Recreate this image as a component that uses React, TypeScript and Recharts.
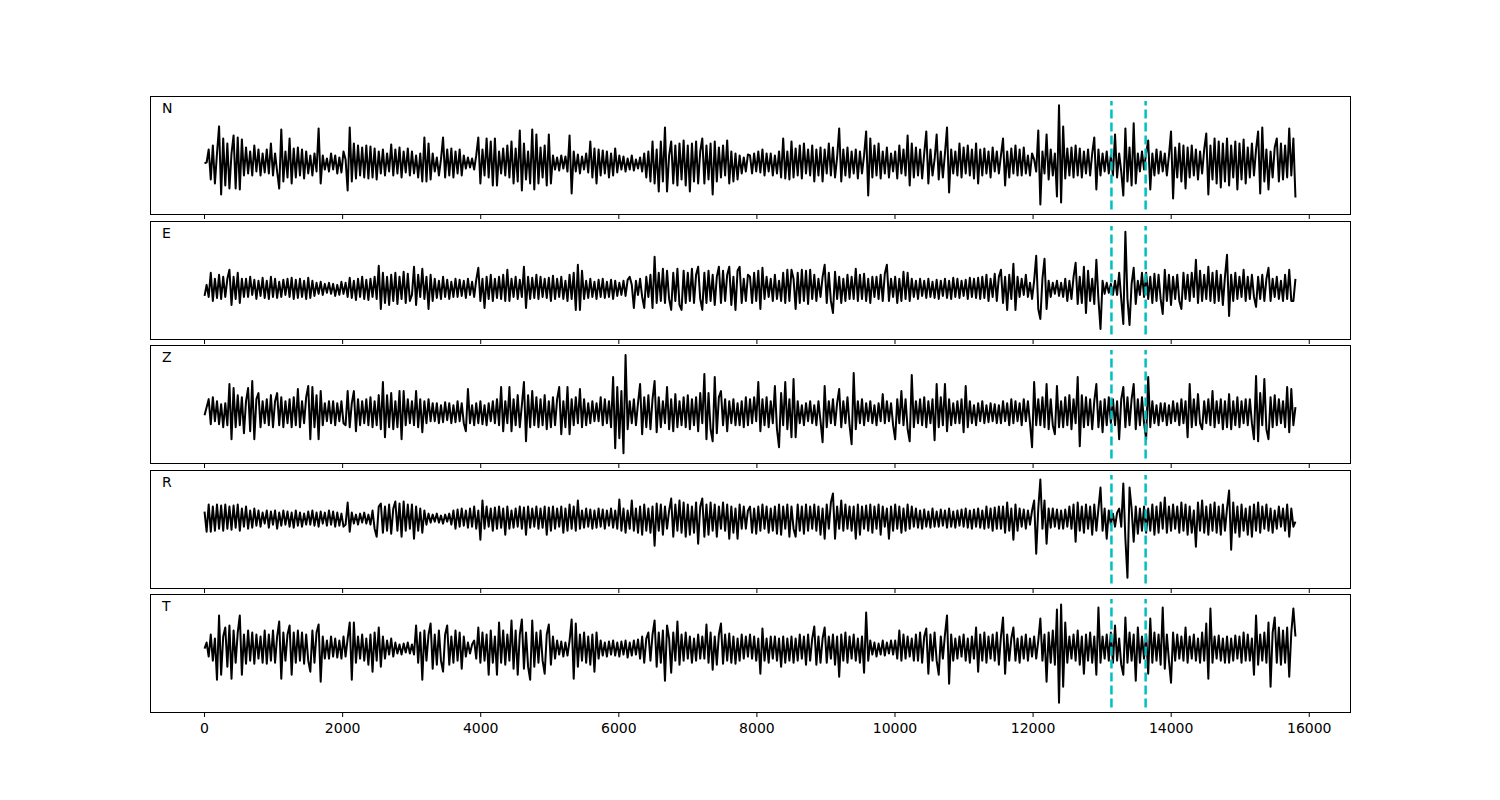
import React from 'react';
import { LineChart, Line, XAxis, YAxis, ReferenceLine } from 'recharts';

const END_TIME = 15800;
const X_TICKS = [0, 2000, 4000, 6000, 8000, 10000, 12000, 14000, 16000];
const X_DOMAIN = [-790, 16590];
const PICKS = [13135, 13630];

const N_VALUES = [
  0, 1, 14, -16, 18, -20, 10, 37, -31, 25,
  -22, 20, -25, 10, 28, -25, 26, -26, 24, -12,
  16, -10, 12, -12, 18, -8, 14, -12, 10, -9,
  14, -10, 20, -12, 10, -8, -25, 34, -18, 12,
  -14, 25, -20, 15, -14, 16, -12, 14, -15, 12,
  -10, 8, -12, 10, -8, 35, -20, 8, -6, 5,
  -8, 10, -6, 8, -10, 6, -9, 12, 4, -27,
  36, -18, 20, -15, 18, -12, 16, -14, 18, -15,
  17, -14, 15, -16, 12, -10, 14, -12, 10, -8,
  19, -12, 14, -10, 16, -14, 12, -9, 15, -12,
  12, -10, 8, -14, 10, -18, 26, -18, 20, -16,
  10, -8, 6, -12, 4, 26, -14, 14, -12, 15,
  -14, 12, -10, 14, -12, 8, -5, 6, -4, 5,
  -6, 8, 26, -20, 14, -12, 25, -14, 22, -22,
  25, -22, 12, -10, 15, -12, 18, -14, 22, -20,
  15, -18, 33, -27, 20, -16, 12, -20, 34, -26,
  29, -20, 16, -14, 18, -22, 29, -20, 8, -6,
  6, -7, 8, -5, 7, -8, 28, -30, 12, -8,
  9, -10, 7, -6, 10, -9, 22, -14, 15, -20,
  14, -12, 13, -10, 12, -14, 10, -12, 15, -9,
  8, -6, 7, -8, 5, -6, 8, -7, 4, -5,
  6, -8, 10, -14, 12, -18, 22, -20, 14, -28,
  22, -18, 36, -28, 8, 22, -20, 18, -22, 20,
  -16, 23, -22, 18, -28, 20, -18, 22, -20, 12,
  25, -20, 18, -16, 20, -31, 22, -18, 16, -14,
  18, -12, 23, -20, 12, -18, 10, -16, 8, -10,
  6, -8, 9,
  8, -10, 10, -8, 12, -9, 14, -12, 10, -8,
  10, -12, 8, -10, 12, -14, 25, -15, 12, -16,
  22, -14, 15, -12, 18, -15, 20, -10, 14, -12,
  18, -18, 14, -12, 16, -18, 14, -10, 20, -12,
  16, -14, 6, 35, -18, 14, -12, 16, -14, 12,
  -10, 14, -15, 12, -10, 8, 32, -32, 25, -14,
  18, -12, 20, -15, 12, -10, 16, -14, 10, -8,
  12, -15, 18, -10, 14, -12, 28, -22, 20, -14,
  16, -12, 14, -15, 10, 32, -20, 14, -12, 4,
  29, -16, 12, -14, 10, 36, -29, 14, -10, 12,
  -12, 20, -14, 16, -10, 18, -12, 14, -15, 20,
  -20, 14, -12, 15, -10, 12, -14, 16, -8, 12,
  -10, 8, 25, -22, 12, -14, 15, -10, 18, -12,
  14, -12, 16, -10, 8, -12, 10, 4, -8, 33,
  -41, 12, -10, 29, -16, 14, -12, 10, -33, 58,
  -39, 37, -15, 15, -12, 16, -14, 18, -12, 15,
  -14, 12, -10, 14, -12, 10, 26, -26, 14, -12,
  10, -8, 12, -10, 8, -12, 29, -14, 10, -8,
  -32, 35, -18, 16, -22, 40, -20, 10, -8, 12,
  -6, 10, 23, -26, 10, -12, 14, -10, 12, -8,
  10, -12, 8, 32, -35, 16, -14, 20, -18, 18,
  -25, 16, -14, 18, -12, 14, -16, 12, -10, 14,
  30, -31, 18, -16, 25, -20, 22, -24, 20, -18,
  25, -22, 18, -14, 22, -26, 20, -16, 24, -20,
  16, -14, 20, -12, 14, 32, -30, 36, -18, 14,
  -26, 12, -14, 16, 25, -18, 20, -16, 18, -14,
  35, -12, 25, -34,
];

const E_VALUES = [
  -7, 4, -8, 16, -12, 10, -9, 14, -10, 12,
  -8, 10, 19, -16, 12, -10, 16, -14, 10, -8,
  10, -8, 12, -6, 9, -10, 8, -7, 11, -9,
  8, -10, 12, -8, 10, -9, 7, -8, 9, -6,
  10, -8, 11, -10, 9, -9, 10, -8, 8, -10,
  11, -9, 8, -7, 6, -5, 7, -6, 5, -4,
  6, -5, 5, -7, 4, -6, 7, -5, 6, -8,
  11, -9, 8, -11, 10, -8, 12, -10, 9, -11,
  10, -8, 12, -10, 23, -20, 16, -14, 12, -16,
  14, -12, 16, -15, 12, -10, 17, -14, 15, -12,
  -6, 22, -16, 14, -8, 20, -10, 12, -20, 14,
  -12, 10, -9, 8, -10, 12, -8, 9, -10, 7,
  -8, 10, -8, 9, -7, 8, -9, 10, -6, 7,
  -8, 9, 21, -12, 10, -19, 12, -10, 14, -12,
  10, -9, 12, -10, 14, -12, 19, -12, 10, -8,
  12, -10, 9, -8, 22, -19, 12, -10, 11, -9,
  14, -10, 12, -8, 10, -9, 11, -12, 13, -10,
  10, -8, 12, -10, 8, -12, 14, -10, 16, -21,
  24, -21, 18, -10, 8, -9, 10, -8, 7, -10,
  9, -8, 10, -9, 7, -8, 9, -10, 8, -7,
  6, -6, 8, -7, 9, 12, 4, -19, 8, -6,
  10, -8, -19, 12, -8, 14, -19, 32, -14, 16,
  -12, 20, -14, 18, -10, -21, 16, -12, 20, -16,
  -21, 18, -14, 16, -12, 20, -14, 14, 22, -10,
  -21, 16, -14, 18, -12, 14, -16, 12, 22, -14,
  18, -12, 14, 22, -16, 12, -21, 18, 22, -14,
  10, -12, 14,
  12, -14, 16, -12, 18, -20, 21, -10, 12, -8,
  10, -12, 14, -10, 8, -12, 16, -14, 19, -12,
  19, 10, -20, 16, -14, 19, -12, 18, -15, 19,
  -10, 14, -12, 10, -8, 12, 24, -14, 16, -12,
  -24, 17, -10, 12, -14, 10, -12, 14, -10, 12,
  -10, 20, -12, 14, -10, 15, -12, 10, -14, 12,
  -8, 12, -10, 14, -12, 15, 24, -12, 10, -8,
  12, -14, 10, -12, 17, -10, 16, -12, 10, -8,
  8, -10, 10, -7, 8, -9, 10, -8, 7, -9,
  9, -10, 8, -7, 10, -9, 8, -10, 11, -8,
  10, -9, 8, -7, 9, -10, 11, -8, 10, -9,
  11, -10, 12, -9, 14, -12, 10, -8, 15, -12,
  12, 19, -14, 12, -21, 14, -10, 25, -21, 12,
  -8, 10, -6, 14, -8, 6, -10, 8, 33, -20,
  -30, 10, 30, -20, 8, -8, 6, -5, 8, -7,
  6, -8, 10, -12, 8, -10, 12, 26, -15, 12,
  -14, 22, -24, 18, -12, 10, -15, 29, -10, -40,
  8, -5, 6, -4, 5, -6, 8, -6, 16, -10,
  -35, 57, -10, -36, 5, 21, -15, 8, -6, 16,
  -8, 16, -10, 12, -14, 15, -12, 14, -10, -25,
  19, -12, 14, -16, 12, -10, 14, -12, -20, 16,
  -10, 14, -12, 16, -8, 29, -14, 18, -12, 14,
  -10, 22, -12, 16, -14, 18, -12, 14, -16, 12,
  34, -27, 14, -12, 16, -10, 12, -8, 19, -12,
  12, -10, 14, -8, -18, 12, -10, 14, -12, 10,
  21, -12, 10, -8, 12, -10, 8, -12, 14, -10,
  19, -12, -12, 10,
];

const Z_VALUES = [
  -2, 6, 14, -11, 16, -8, 12, -11, 9, -14,
  10, -12, 29, -26, 25, -14, 18, -12, 16, -20,
  12, 25, -18, 32, -26, 14, 20, -14, 12, -10,
  14, -12, 18, -14, 12, 20, -12, 16, -14, 12,
  -10, 14, -14, 16, -12, 24, -14, 12, -10, 16,
  27, -26, 26, -14, 18, -26, 22, -12, 10, -8,
  12, -10, 12, -12, 10, -8, 12, -10, -12, 22,
  -14, 10, 22, -18, 14, -12, 12, -10, 14, -12,
  16, -14, 12, -12, 18, -16, 31, -24, 18, -14,
  20, -16, 12, -14, 22, -26, 22, -12, 14, -10,
  12, -12, 22, -14, 14, -19, 12, -10, 14, -8,
  10, -8, 10, -10, 8, -9, 11, -7, 10, -10,
  8, -9, 12, -8, 10, -10, -18, 24, -10, 8,
  -12, 10, -10, 12, -11, 8, -12, 10, -8, 12,
  -10, 14, -12, 26, -18, 12, -10, 26, -18, 14,
  -12, 18, -14, 8, 31, -28, 18, -14, 22, -12,
  16, -14, 14, -12, 18, -16, 12, -14, 16, -12,
  14, 26, -21, 12, -14, 26, -21, 14, -12, 16,
  -10, 24, -14, 14, -12, 10, -10, 12, -8, 10,
  -8, 16, -12, 14, -10, 12, -14, 36, -35, 26,
  -25, 22, -40, 58, -16, 12, -10, 14, -12, 10,
  29, -21, 16, -14, 18, -16, 14, 32, -19, 16,
  -14, 12, -10, 26, -16, 14, -18, 19, -14, 12,
  -12, 16, -14, 18, -16, 14, -12, 16, -18, 20,
  -10, 39, -26, 20, -16, -28, 36, -20, 16, 22,
  -12, 14, -18, 12, -10, 14, -12, 10, -12, 12,
  -14, 16, -12,
  14, -10, 16, -8, 31, -18, 14, -12, 16, -14,
  12, -10, 27, -16, -34, 20, -12, 31, -16, 14,
  -24, 34, -24, 12, -10, 8, -12, 10, -8, 12,
  -10, 8, -12, 12, -8, -29, 27, -14, 12, -10,
  14, -12, 10, 24, -14, 12, -10, 16, -12, -31,
  40, -16, 12, -10, 14, -12, 10, -8, 12, -10,
  8, -12, 10, -8, 19, -10, 12, -8, 10, -12,
  -26, 14, -10, 22, -12, 14, -16, -28, 38, -14,
  12, -10, 14, -12, 16, -14, 12, -10, 14, -27,
  29, -14, 16, -12, 29, -18, 14, -12, 10, -10,
  12, -10, 14, -19, 27, -14, 12, -10, 8, -12,
  10, -8, 12, -10, 8, -9, 10, -8, 9, -10,
  8, -10, 12, -8, 10, -12, 14, -10, 12, -8,
  10, -12, 14, -8, 12, -10, -34, 31, -12, 14,
  -12, 16, -14, 29, -16, 14, -12, -21, 27, -14,
  12, -14, 16, -12, 18, -16, 14, -10, 36, -33,
  18, -14, 16, -12, 14, -16, 12, 29, -14, 12,
  -19, 14, -12, 16, -10, 14, -12, 12, -26, 14,
  26, -14, 16, -12, 14, 29, -16, 14, -12, 16,
  -10, -26, 36, -14, 12, -10, 8, -12, 10, -8,
  10, -12, 8, -10, 12, -8, 10, -12, 14, -10,
  12, -24, 29, -14, 14, -12, 19, -10, -16, 12,
  -10, 14, -12, 22, -14, 12, -10, 14, -16, 12,
  -14, 19, -16, 12, -12, 16, -14, 12, -10, 14,
  -12, 14, -10, -26, 37, -28, 20, -12, 34, -16,
  -26, 16, -14, 18, -12, 14, -10, 12, -14, 26,
  -19, 24, -12, 6,
];

const R_VALUES = [
  7, -13, 14, -13, 12, -12, 14, -10, 13, -12,
  14, -10, 12, -11, 13, -9, 14, -12, 10, -8,
  12, -10, 8, -9, 10, -7, 8, -8, 6, -5,
  8, -9, 7, -6, 8, -10, 6, -7, 8, -6,
  7, -8, 6, -9, 8, -7, 6, -8, 5, -6,
  7, -6, 8, -7, 6, -8, 7, -5, 6, -7,
  8, -6, 7, -8, 6, -7, 5, -8, -6, 16,
  -13, 6, -5, 4, -6, 5, -4, 6, -5, 4,
  -6, 8, -10, -18, 12, 15, -14, 12, -12, 14,
  -15, 10, 17, -12, 15, -18, 17, -12, 14, -10,
  14, -20, 12, -12, 10, -14, 8, -6, 5, -4,
  4, -3, 5, -4, 3, -5, 4, -3, 5, -6,
  8, -10, 9, -8, 10, -7, 8, -9, 10, -8,
  12, -10, 8, -21, 18, -10, 12, -8, 10, -12,
  11, -10, 12, -9, 10, -16, 12, -10, 8, -9,
  10, -8, 12, -10, 11, -16, 12, -9, 10, -8,
  12, -10, 10, -9, 12, -16, 11, -12, 12, -10,
  10, -8, 12, -14, 10, -12, 14, -10, 12, -12,
  18, -10, 8, -9, 10, -8, 9, -10, 8, -9,
  10, -8, 9, -10, 8, -7, 10, -9, 8, -10,
  19, -12, 10, -14, 8, -10, 18, -12, 10, -14,
  12, -16, 14, -12, 10, -14, 12, -27, 15, -12,
  14, -16, 12, -10, 8, 20, -18, 14, -12, 18,
  -14, 16, -18, 14, -16, 12, -14, 16, -25, 12,
  20, -18, 14, -16, 16, -12, 14, -18, 12, -10,
  16, -12, 14, -20, 12, -14, 10, -20, 14, -10,
  12, -10, 8,
  12, -14, 10, -15, 12, -12, 14, -10, 12, -14,
  10, -12, 12, -15, 14, -16, 12, -10, 14, -18,
  12, -10, -18, 14, -12, 12, -15, 14, -12, 12,
  -10, 14, -12, 12, -16, 10, -20, 14, -10, 16,
  25, -20, 12, -10, 18, -12, 14, -10, 12, -12,
  12, -20, 14, -16, 12, -10, 13, -12, 14, -14,
  12, -10, 14, -16, 12, -8, 10, -20, 12, -12,
  14, -10, 12, -14, 10, -12, 14, -10, 12, -8,
  10, -9, 8, -10, 9, -8, 7, -9, 10, -8,
  7, -8, 9, -7, 8, -9, 10, -8, 7, -9,
  8, -7, 9, -8, 10, -9, 8, -10, 9, -8,
  10, -9, 8, -10, 12, -9, 10, -12, 11, -10,
  12, -10, 12, -14, 16, -12, 10, -21, 14, -12,
  10, -8, 9, -10, 8, -6, 8, 18, -35, 10,
  39, -10, 18, -25, 10, -9, 10, -8, 9, -10,
  8, -10, 9, -8, 12, -10, 14, -23, 16, -12,
  12, -14, 14, -10, 12, -16, 14, -12, 10, 31,
  -12, 10, -20, 8, -6, 5, -8, 6, 10, -8,
  35, -20, -59, 31, 10, -23, 12, -15, 10, -12,
  12, -14, 10, -12, 14, -16, 12, -14, 16, -10,
  21, -14, 12, -12, 14, -10, 12, -14, 16, -12,
  14, -16, 12, -14, 8, -28, 16, -12, 18, -14,
  12, -16, 14, -12, 16, -14, 12, -16, 14, -12,
  10, 28, -31, 16, -14, 12, -18, 14, -12, 10,
  -16, 12, -18, 14, -12, 16, -14, 12, -10, 14,
  -12, 10, -14, 8, -10, 12, -8, 10, -12, 14,
  -18, 10, -8, -3,
];

const T_VALUES = [
  0, 6, -8, 14, -12, 10, -31, 33, -26, 12,
  21, -18, 23, -30, 18, -14, 16, 33, -26, 14,
  -15, 18, -12, 16, -15, 14, -10, 12, -14, 18,
  -15, 14, -12, 18, -14, 12, 27, -30, 16, -12,
  14, 23, -26, 16, -14, 18, -12, 16, -15, 14,
  -12, -23, 18, -14, 16, 24, -33, 12, -10, 8,
  -10, 12, -8, 10, -9, 8, -10, 12, -8, 10,
  26, -31, 26, -14, 12, -10, 14, -12, 10, -16,
  14, -23, 16, -12, 21, -18, 12, -10, 8, -6,
  10, -8, 6, -5, 4, -6, 5, -4, 6, -5,
  4, -6, 23, -14, 16, -31, 18, -12, 14, 25,
  -20, 14, -16, 18, -12, -23, 14, 23, -16, 12,
  -14, 18, -12, 16, -20, 12, -8, 6, -5, 4,
  8, -10, 21, -14, 16, -12, 14, -26, 18, -14,
  12, -26, 26, -14, 18, -16, 14, -12, 28, -20,
  18, -26, 14, 29, -20, 16, -18, -31, 28, -18,
  16, -14, 18, -12, -25, 14, 24, -16, 12, -10,
  8, -6, 7, -8, 6, -7, 8, 29, -30, 25,
  -18, 14, -12, 16, -14, 12, -16, 14, -23, 16,
  -10, 8, -7, 6, -8, 7, -6, 8, -7, 6,
  -8, 7, -6, 8, -9, 6, -7, 8, -6, 9,
  -10, 12, -14, 10, 16, -12, 14, 28, -18, 16,
  -14, 18, -32, 23, 10, -24, 16, -12, 27, -16,
  14, -12, 16, -10, 12, -14, 10, -12, 14, -10,
  12, -10, 24, -14, 16, -21, 12, -16, 14, 25,
  -15, 14, -12, 15, -14, 12, -15, 10, -12, 14,
  -10, 12, -8,
  14, -10, 12, -12, 10, -25, 20, -12, 10, -14,
  12, -10, 12, -12, 10, -18, 12, -14, 10, -12,
  12, -14, 10, -12, 14, -10, 12, -16, 14, -12,
  10, 22, -16, 12, -14, 10, 21, -14, 12, -10,
  14, -16, 12, -28, 14, -12, 16, -14, 12, -10,
  14, -12, 10, -14, 12, -24, 36, -12, 8, -6,
  6, -8, 5, -6, 8, -7, 6, -5, 8, -6,
  8, -10, 18, -12, 14, -10, 12, -8, 10, -12,
  14, -12, 16, -14, 12, 20, -25, 14, -12, 16,
  -12, -26, 12, -10, 14, 33, -35, 14, -12, 10,
  -10, 12, -8, 14, -12, 10, -14, 12, -10, 21,
  -23, 14, -12, 16, -14, 12, -10, 14, -12, 16,
  -16, 12, 31, -25, 14, -12, 10, 21, -12, 10,
  -14, 12, -10, 14, -12, 10, -8, 12, -10, 8,
  30, -12, 14, -33, 16, -14, 18, -16, 39, -54,
  44, -38, 26, -14, 12, -10, 14, -12, 18, -16,
  12, -25, 14, -12, 16, -14, 12, -26, 41, -14,
  12, -10, 14, -12, 16, -14, 23, -12, 10, -16,
  -26, 31, -14, 16, -12, 14, -32, 21, -14, 12,
  -10, 14, -25, 30, -14, 16, -12, 14, -16, 41,
  -20, 14, -12, -34, 16, -12, 14, -10, 12, -12,
  21, -14, 12, -10, 14, -12, 10, -14, 16, -12,
  25, -30, 40, -14, 12, -10, 13, -12, 10, -14,
  12, -14, 10, -12, 13, -10, 12, -14, 16, -12,
  14, -12, 10, -26, 33, -16, 14, -12, 16, -14,
  26, -38, 16, 31, -14, 21, -16, 18, -14, 21,
  -28, 16, 40, 12,
];

const PANELS = [
  { name: 'N', values: N_VALUES, domain: [-50.4, 67.3], top: 96 },
  { name: 'E', values: E_VALUES, domain: [-50, 67.7], top: 221 },
  { name: 'Z', values: Z_VALUES, domain: [-49.7, 68], top: 345 },
  { name: 'R', values: R_VALUES, domain: [-69.2, 48.5], top: 470 },
  { name: 'T', values: T_VALUES, domain: [-63.2, 54.4], top: 594 },
];

const FONT = 'DejaVu Sans, sans-serif';
const PLOT_W = 1200;
const PLOT_H = 118;
const AXIS_H = 30;

function Panel({ name, values, domain, top, last }) {
  const data = values.map((v, i) => ({ x: (i * END_TIME) / (values.length - 1), v }));
  return (
    <div style={{ position: 'absolute', left: 150, top, width: PLOT_W + 1, height: PLOT_H + AXIS_H }}>
      <LineChart
        width={PLOT_W}
        height={PLOT_H + AXIS_H}
        data={data}
        margin={{ top: 0, right: 0, bottom: 0, left: 0 }}
      >
        <XAxis
          dataKey="x"
          type="number"
          domain={X_DOMAIN}
          ticks={X_TICKS}
          interval={0}
          allowDataOverflow
          axisLine={false}
          tickLine={{ stroke: '#000', strokeWidth: 1 }}
          tickSize={5}
          tickMargin={6}
          height={AXIS_H}
          tick={{ fill: '#000', fontSize: 14, fontFamily: FONT }}
          tickFormatter={(t) => (last ? String(t) : '')}
        />
        <YAxis type="number" domain={domain} hide allowDataOverflow />
        <Line
          type="linear"
          dataKey="v"
          stroke="#000"
          strokeWidth={2}
          strokeLinejoin="round"
          dot={false}
          activeDot={false}
          isAnimationActive={false}
        />
        {PICKS.map((p) => (
          <ReferenceLine
            key={p}
            segment={[
              { x: p, y: domain[0] + 4.5 },
              { x: p, y: domain[1] - 5 },
            ]}
            stroke="#00bfbf"
            strokeWidth={2.5}
            strokeDasharray="9 4"
          />
        ))}
      </LineChart>
      <div
        style={{
          position: 'absolute',
          left: 0,
          top: 0,
          width: PLOT_W + 1,
          height: PLOT_H + 1,
          border: '1px solid #000',
          boxSizing: 'border-box',
          pointerEvents: 'none',
        }}
      />
      <svg
        width={PLOT_W}
        height={PLOT_H}
        style={{ position: 'absolute', left: 0, top: 0, pointerEvents: 'none' }}
      >
        <text x={12} y={16.5} fontSize={14} fontFamily={FONT} fill="#000">
          {name}
        </text>
      </svg>
    </div>
  );
}

export default function App() {
  return (
    <div
      style={{
        position: 'absolute',
        left: 0,
        top: 0,
        width: 1500,
        height: 800,
        background: '#fff',
        overflow: 'hidden',
      }}
    >
      {PANELS.map((p, i) => (
        <Panel key={p.name} {...p} last={i === PANELS.length - 1} />
      ))}
    </div>
  );
}
